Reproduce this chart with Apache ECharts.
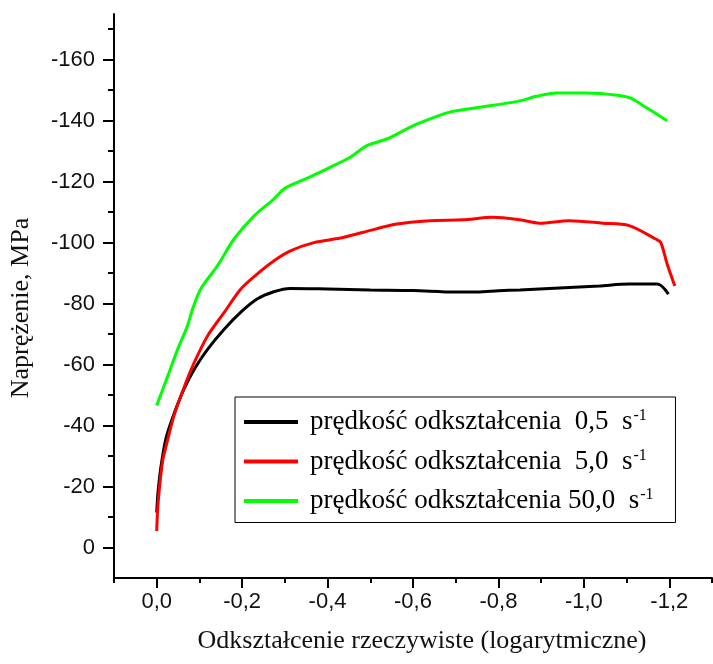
<!DOCTYPE html>
<html>
<head>
<meta charset="utf-8">
<script src="https://cdn.jsdelivr.net/npm/echarts@6/dist/echarts.min.js"></script>
<style>
  html, body { margin: 0; padding: 0; background: #fff; }
  #chart { width: 713px; height: 664px; }
</style>
</head>
<body>
<div id="chart"></div>
<script>
// (odkształcenie, naprężenie MPa)
var blackStrain = [0, -0.003, -0.01, -0.022, -0.041, -0.064, -0.088, -0.119, -0.158, -0.197, -0.235, -0.274, -0.313, -0.4, -0.5, -0.6, -0.7, -0.75, -0.8, -0.85, -0.966, -1.036, -1.106, -1.172, -1.198];
var blackStress = [-11.5, -18, -26.6, -36, -44, -52, -58.5, -65, -71.6, -77.2, -81.5, -83.9, -85, -84.8, -84.5, -84.3, -83.8, -83.8, -84.2, -84.5, -85.3, -85.8, -86.4, -86.4, -83.1];

var redStrain = [0, -0.002, -0.006, -0.014, -0.026, -0.041, -0.064, -0.088, -0.119, -0.158, -0.197, -0.235, -0.274, -0.313, -0.368, -0.43, -0.484, -0.562, -0.64, -0.717, -0.787, -0.85, -0.896, -0.966, -1.044, -1.106, -1.168, -1.18, -1.195, -1.213];
var redStress = [-5.4, -12, -19, -28.5, -35.5, -43.5, -52.5, -60.7, -69.4, -77.1, -84.8, -89.7, -94, -97.3, -100, -101.5, -103.4, -106.1, -107.2, -107.5, -108.3, -107.5, -106.4, -107.2, -106.4, -105.6, -101.2, -100.1, -93, -85.8];

var greenStrain = [0, -0.026, -0.049, -0.072, -0.084, -0.103, -0.142, -0.181, -0.228, -0.274, -0.3, -0.35, -0.406, -0.453, -0.492, -0.539, -0.601, -0.64, -0.686, -0.733, -0.795, -0.85, -0.889, -0.935, -1.005, -1.083, -1.11, -1.145, -1.195];
var greenStress = [-46.6, -56.3, -65, -72.7, -78.2, -84.8, -92.4, -101.2, -108.8, -114.3, -117.8, -121, -124.7, -128, -131.8, -134, -138.4, -140.6, -142.8, -143.9, -145.2, -146.5, -148, -149.1, -149.1, -148.3, -147.4, -144.4, -140];

var seriesNames = ['prędkość odkształcenia  0,5  s', 'prędkość odkształcenia  5,0  s', 'prędkość odkształcenia 50,0  s'];

var xLabels = [0, -0.2, -0.4, -0.6, -0.8, -1.0, -1.2];
var xMinor = [0.1, -0.1, -0.3, -0.5, -0.7, -0.9, -1.1, -1.3];
var yLabels = [0, -20, -40, -60, -80, -100, -120, -140, -160];
var yMinor = [-10, -30, -50, -70, -90, -110, -130, -150, -170];

function zip(xs, ys) {
    return xs.map(function (x, i) { return [x, ys[i]]; });
}

var tickFont = { fontFamily: 'Liberation Sans', fontSize: 22, color: '#111' };
var axisLineStyle = { color: '#000', width: 2 };

var chart = echarts.init(document.getElementById('chart'));
chart.setOption({
    animation: false,
    grid: { left: 114, right: 1, top: 14, bottom: 86 },
    legend: {
        orient: 'vertical',
        left: 235,
        top: 397,
        padding: [11, 22, 8, 9],
        itemGap: 12,
        itemWidth: 54,
        itemHeight: 4,
        icon: 'rect',
        borderColor: '#000',
        borderWidth: 1,
        borderRadius: 0,
        formatter: function (name) {
            return '{t|' + name + '}{s|-1}';
        },
        textStyle: {
            rich: {
                t: { fontFamily: 'Liberation Serif', fontSize: 27, color: '#000', lineHeight: 28, padding: [0, 0, 0, 7] },
                s: { fontFamily: 'Liberation Serif', fontSize: 16, color: '#000', lineHeight: 28, verticalAlign: 'top', padding: [0, 0, 10, 1] }
            }
        },
        data: seriesNames
    },
    xAxis: [{
        type: 'value',
        inverse: true,
        min: -1.3,
        max: 0.1,
        name: 'Odkształcenie rzeczywiste (logarytmiczne)',
        nameLocation: 'middle',
        nameGap: 50,
        nameTextStyle: { fontFamily: 'Liberation Serif', fontSize: 26, color: '#111', padding: [0, 0, 0, 18] },
        axisLine: { onZero: false, lineStyle: axisLineStyle },
        axisTick: { customValues: xLabels, length: 10, lineStyle: { color: '#000', width: 2 } },
        axisLabel: Object.assign({
            customValues: xLabels,
            margin: 13,
            formatter: function (v) { return v.toFixed(1).replace('.', ','); }
        }, tickFont),
        splitLine: { show: false }
    }, {
        type: 'value',
        inverse: true,
        min: -1.3,
        max: 0.1,
        position: 'bottom',
        axisLine: { show: false, onZero: false },
        axisTick: { customValues: xMinor, length: 5, lineStyle: { color: '#000', width: 2 } },
        axisLabel: { show: false },
        splitLine: { show: false }
    }],
    yAxis: [{
        type: 'value',
        inverse: true,
        min: -175,
        max: 10,
        name: 'Naprężenie, MPa',
        nameLocation: 'middle',
        nameGap: 80,
        nameTextStyle: { fontFamily: 'Liberation Serif', fontSize: 26, color: '#111', padding: [0, 24, 0, 0] },
        axisLine: { onZero: false, lineStyle: axisLineStyle },
        axisTick: { customValues: yLabels, length: 11, lineStyle: { color: '#000', width: 2 } },
        axisLabel: Object.assign({ customValues: yLabels, margin: 19 }, tickFont),
        splitLine: { show: false }
    }, {
        type: 'value',
        inverse: true,
        min: -175,
        max: 10,
        position: 'left',
        axisLine: { show: false, onZero: false },
        axisTick: { customValues: yMinor, length: 6, lineStyle: { color: '#000', width: 2 } },
        axisLabel: { show: false },
        splitLine: { show: false }
    }],
    series: [
        { name: seriesNames[0], type: 'line', data: zip(blackStrain, blackStress), color: '#000', smooth: 0.3, symbol: 'none', lineStyle: { width: 3 } },
        { name: seriesNames[1], type: 'line', data: zip(redStrain, redStress), color: '#ff0000', smooth: 0.3, symbol: 'none', lineStyle: { width: 3 } },
        { name: seriesNames[2], type: 'line', data: zip(greenStrain, greenStress), color: '#00ff00', smooth: 0.3, symbol: 'none', lineStyle: { width: 3 } }
    ]
});
</script>
</body>
</html>
